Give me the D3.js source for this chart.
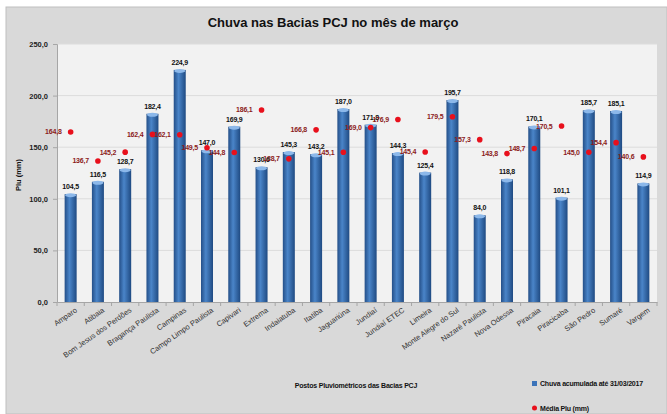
<!DOCTYPE html>
<html>
<head>
<meta charset="utf-8">
<script src="https://cdn.jsdelivr.net/npm/d3@7"></script>
<style>
  body { margin: 0; background: #fff; }
  svg { display: block; font-family: "Liberation Sans Narrow", "Liberation Sans", sans-serif; }
</style>
</head>
<body>
<div id="chart"></div>
<script>

// data
const postos = ['Amparo', 'Atibaia', 'Bom Jesus dos Perdões', 'Bragança Paulista', 'Campinas',
  'Campo Limpo Paulista', 'Capivari', 'Extrema', 'Indaiatuba', 'Itatiba', 'Jaguariúna', 'Jundiaí',
  'Jundiaí ETEC', 'Limeira', 'Monte Alegre do Sul', 'Nazaré Paulista', 'Nova Odessa', 'Piracaia',
  'Piracicaba', 'São Pedro', 'Sumaré', 'Vargem']

const chuva = [104.5, 116.5, 128.7, 182.4, 224.9, 147.0, 169.9, 130.6, 145.3, 143.2, 187.0, 171.8,
  144.3, 125.4, 195.7, 84.0, 118.8, 170.1, 101.1, 185.7, 185.1, 114.9]

const media = [164.8, 136.7, 145.2, 162.4, 162.1, 149.5, 144.8, 186.1, 138.7, 166.8, 145.1, 169.0,
  176.9, 145.4, 179.5, 157.3, 143.8, 148.7, 170.5, 145.0, 154.4, 140.6]

const yTicks = [0, 50, 100, 150, 200, 250]

// chart setting
const chart = {
  'width' : 667,
  'height' : 414,
  'left' : 57,
  'right' : 657,
  'top' : 44,
  'bottom' : 302
}

const fmt = v => v.toFixed(1).replace('.', ',')

const svg = d3.select('#chart')
  .append('svg')
    .attr('width', chart.width)
    .attr('height', chart.height)

const defs = svg.append('defs')
const grad = defs.append('linearGradient').attr('id', 'barGrad')
  .attr('x1', '0%').attr('x2', '100%').attr('y1', '0%').attr('y2', '0%')
grad.append('stop').attr('offset', '0%').attr('stop-color', '#244f88')
grad.append('stop').attr('offset', '40%').attr('stop-color', '#4a85c9')
grad.append('stop').attr('offset', '100%').attr('stop-color', '#1f4a82')

// outer background
svg.append('rect')
  .attr('x', 6).attr('y', 7)
  .attr('width', chart.width - 6).attr('height', chart.height - 7)
  .attr('fill', '#d9d9d9')
  .attr('stroke', '#bfbfbf')

// plot area
svg.append('rect')
  .attr('x', chart.left).attr('y', chart.top)
  .attr('width', chart.right - chart.left).attr('height', chart.bottom - chart.top)
  .attr('fill', '#f2f2f2')

const xScale = d3.scaleBand()
  .domain(postos)
  .range([chart.left, chart.right])

const yScale = d3.scaleLinear()
  .domain([0, 250])
  .range([chart.bottom, chart.top])

// grid
svg.append('g')
  .selectAll('line')
  .data(yTicks.filter(d => d > 0))
  .join('line')
    .attr('x1', chart.left).attr('x2', chart.right)
    .attr('y1', d => yScale(d)).attr('y2', d => yScale(d))
    .attr('stroke', '#dcdcdc')
    .attr('stroke-width', 1)

// y axis
const yAxis = svg.append('g')
  .attr('transform', `translate(${chart.left},0)`)
  .call(d3.axisLeft(yScale).tickValues(yTicks).tickFormat(fmt).tickSize(4))
yAxis.select('.domain').attr('stroke', '#a6a6a6')
yAxis.selectAll('.tick line').attr('stroke', '#a6a6a6')
yAxis.selectAll('text')
  .attr('font-size', 7.5).attr('font-weight', 'bold').attr('fill', '#222')
  .attr('x', -9)

// x axis
const xAxis = svg.append('g')
  .attr('transform', `translate(0,${chart.bottom})`)
  .call(d3.axisBottom(xScale).tickSize(0).tickSizeOuter(0))
xAxis.select('.domain').attr('stroke', '#a6a6a6')
xAxis.selectAll('.tick text')
  .attr('font-size', 7.5).attr('fill', '#333')
  .attr('text-anchor', 'end')
  .attr('transform', 'translate(4,5) rotate(-35)')
  .attr('dy', '0.7em')
  .attr('y', 0)

// tick marks between categories
svg.append('g')
  .selectAll('line')
  .data(d3.range(postos.length + 1))
  .join('line')
    .attr('x1', i => chart.left + i * xScale.step())
    .attr('x2', i => chart.left + i * xScale.step())
    .attr('y1', chart.bottom).attr('y2', chart.bottom + 4)
    .attr('stroke', '#a6a6a6')

// bars
const barW = 12
const bars = svg.append('g')
  .selectAll('g')
  .data(postos.map((p, i) => ({posto: p, chuva: chuva[i], media: media[i]})))
  .join('g')

bars.append('rect')
  .attr('x', d => xScale(d.posto) + xScale.bandwidth() / 2 - barW / 2)
  .attr('y', d => yScale(d.chuva))
  .attr('width', barW)
  .attr('height', d => chart.bottom - yScale(d.chuva))
  .attr('fill', 'url(#barGrad)')

bars.append('ellipse')
  .attr('cx', d => xScale(d.posto) + xScale.bandwidth() / 2)
  .attr('cy', d => yScale(d.chuva) + 1)
  .attr('rx', barW / 2 - 0.5)
  .attr('ry', 2)
  .attr('fill', '#8cb8ea')

bars.append('text')
  .attr('x', d => xScale(d.posto) + xScale.bandwidth() / 2)
  .attr('y', d => yScale(d.chuva) - 5)
  .attr('text-anchor', 'middle')
  .attr('font-size', 7).attr('font-weight', 'bold').attr('fill', '#111')
  .attr('letter-spacing', -0.2)
  .text(d => fmt(d.chuva))

// media points
bars.append('circle')
  .attr('cx', d => xScale(d.posto) + xScale.bandwidth() / 2)
  .attr('cy', d => yScale(d.media))
  .attr('r', 2.8)
  .attr('fill', '#e8101c')

bars.append('text')
  .attr('x', d => xScale(d.posto) + xScale.bandwidth() / 2 - 9)
  .attr('y', d => yScale(d.media) + 2.5)
  .attr('text-anchor', 'end')
  .attr('font-size', 7).attr('font-weight', 'bold').attr('fill', '#8b1a1a')
  .attr('letter-spacing', -0.2)
  .text(d => fmt(d.media))

// title
svg.append('text')
  .attr('x', 333).attr('y', 27)
  .attr('text-anchor', 'middle')
  .attr('font-size', 13).attr('font-weight', 'bold').attr('fill', '#111')
  .text('Chuva nas Bacias PCJ no mês de março')

// axis titles
svg.append('text')
  .attr('transform', 'translate(21,175) rotate(-90)')
  .attr('text-anchor', 'middle')
  .attr('font-size', 7.5).attr('font-weight', 'bold').attr('fill', '#111')
  .text('Plu (mm)')

svg.append('text')
  .attr('x', 356).attr('y', 388)
  .attr('text-anchor', 'middle')
  .attr('font-size', 7).attr('font-weight', 'bold').attr('fill', '#111')
  .attr('letter-spacing', -0.2)
  .text('Postos Pluviométricos das Bacias PCJ')

// legend
svg.append('rect')
  .attr('x', 532).attr('y', 381).attr('width', 5).attr('height', 5)
  .attr('fill', '#3b73b9')
svg.append('text')
  .attr('x', 540).attr('y', 386)
  .attr('font-size', 7).attr('font-weight', 'bold').attr('fill', '#111')
  .attr('letter-spacing', -0.2)
  .text('Chuva acumulada até 31/03/2017')
svg.append('circle')
  .attr('cx', 534.5).attr('cy', 408).attr('r', 2.5)
  .attr('fill', '#e8101c')
svg.append('text')
  .attr('x', 540).attr('y', 410.5)
  .attr('font-size', 7).attr('font-weight', 'bold').attr('fill', '#111')
  .attr('letter-spacing', -0.2)
  .text('Média Plu (mm)')

</script>
</body>
</html>
